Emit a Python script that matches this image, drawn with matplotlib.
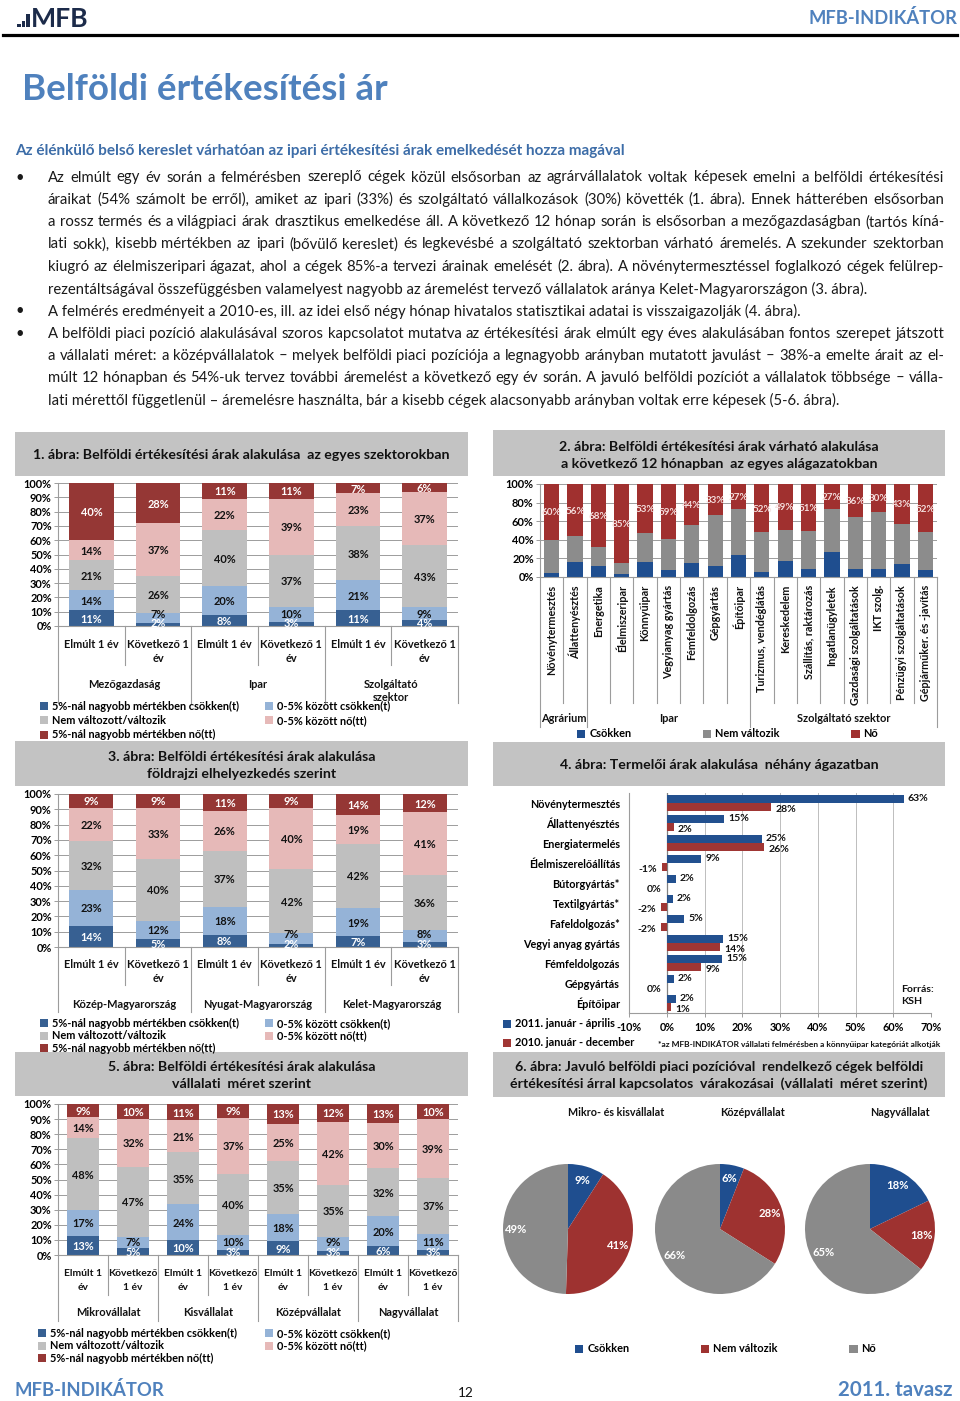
import numpy as np
import matplotlib
matplotlib.use('Agg')
import matplotlib.pyplot as plt
from matplotlib.font_manager import FontProperties, fontManager
from matplotlib.patches import Rectangle
from matplotlib.lines import Line2D
from matplotlib.transforms import blended_transform_factory

# ------------------------------------------------------------------ DATA
heading = "Belföldi értékesítési ár"
subheading = "Az élénkülő belső kereslet várhatóan az ipari értékesítési árak emelkedését hozza magával"
body_lines = [
    "Az elmúlt egy év során a felmérésben szereplő cégek közül elsősorban az agrárvállalatok voltak képesek emelni a belföldi értékesítési",
    "áraikat (54% számolt be erről), amiket az ipari (33%) és szolgáltató vállalkozások (30%) követték (1. ábra). Ennek hátterében elsősorban",
    "a rossz termés és a világpiaci árak drasztikus emelkedése áll. A következő 12 hónap során is elsősorban a mezőgazdaságban (tartós kíná-",
    "lati sokk), kisebb mértékben az ipari (bővülő kereslet) és legkevésbé a szolgáltató szektorban várható áremelés. A szekunder szektorban",
    "kiugró az élelmiszeripari ágazat, ahol a cégek 85%-a tervezi árainak emelését (2. ábra). A növénytermesztéssel foglalkozó cégek felülrep-",
    "rezentáltságával összefüggésben valamelyest nagyobb az áremelést tervező vállalatok aránya Kelet-Magyarországon (3. ábra).",
    "A felmérés eredményeit a 2010-es, ill. az idei első négy hónap hivatalos statisztikai adatai is visszaigazolják (4. ábra).",
    "A belföldi piaci pozíció alakulásával szoros kapcsolatot mutatva az értékesítési árak elmúlt egy éves alakulásában fontos szerepet játszott",
    "a vállalati méret: a középvállalatok – melyek belföldi piaci pozíciója a legnagyobb arányban mutatott javulást – 38%-a emelte árait az el-",
    "múlt 12 hónapban és 54%-uk tervez további áremelést a következő egy év során.  A javuló belföldi pozíciót a vállalatok többsége – válla-",
    "lati mérettől függetlenül – áremelésre használta, bár a kisebb cégek alacsonyabb arányban voltak erre képesek (5-6. ábra).",
]
body_bullet = [True, False, False, False, False, False, True, True, False, False, False]
body_justify = [True, True, True, True, True, False, False, True, True, True, False]

seg_names = ['5%-nál nagyobb mértékben csökken(t)', '0-5% között csökken(t)',
             'Nem változott/változik', '0-5% között nő(tt)', '5%-nál nagyobb mértékben nő(tt)']

c1_title = ["1. ábra: Belföldi értékesítési árak alakulása  az egyes szektorokban"]
c1_groups = ['Mezőgazdaság', 'Ipar', 'Szolgáltató\nszektor']
c1_cats = ['Elmúlt 1 év', 'Következő 1\név'] * 3
c1_vals = [[11, 14, 21, 14, 40], [2, 7, 26, 37, 28], [8, 20, 40, 22, 11],
           [3, 10, 37, 39, 11], [11, 21, 38, 23, 7], [4, 9, 43, 37, 6]]

c2_title = ["2. ábra: Belföldi értékesítési árak várható alakulása",
            "a következő 12 hónapban  az egyes alágazatokban"]
c2_cats = ['Növénytermesztés', 'Állattenyésztés', 'Energetika', 'Élelmiszeripar', 'Könnyűipar',
           'Vegyianyag gyártás', 'Fémfeldolgozás', 'Gépgyártás', 'Építőipar', 'Turizmus, vendéglátás',
           'Kereskedelem', 'Szállítás, raktározás', 'Ingatlanügyletek', 'Gazdasági szolgáltatások',
           'IKT szolg.', 'Pénzügyi szolgáltatások', 'Gépjárműker. és -javítás']
c2_groups = ['Agrárium', 'Ipar', 'Szolgáltató szektor']
c2_group_sizes = [2, 7, 8]
c2_series = ['Csökken', 'Nem változik', 'Nő']
c2_down = [4, 16, 12, 3, 16, 7, 15, 12, 24, 5, 17, 9, 27, 9, 9, 14, 8]
c2_same = [36, 28, 20, 12, 31, 34, 41, 55, 49, 43, 34, 40, 46, 55, 61, 43, 40]
c2_up = [60, 56, 68, 85, 53, 59, 44, 33, 27, 52, 49, 51, 27, 36, 30, 43, 52]

c3_title = ["3. ábra: Belföldi értékesítési árak alakulása", "földrajzi elhelyezkedés szerint"]
c3_groups = ['Közép-Magyarország', 'Nyugat-Magyarország', 'Kelet-Magyarország']
c3_cats = ['Elmúlt 1 év', 'Következő 1\név'] * 3
c3_vals = [[14, 23, 32, 22, 9], [5, 12, 40, 33, 9], [8, 18, 37, 26, 11],
           [2, 7, 42, 40, 9], [7, 19, 42, 19, 14], [3, 8, 36, 41, 12]]

c4_title = ["4. ábra: Termelői árak alakulása  néhány ágazatban"]
c4_cats = ['Növénytermesztés', 'Állattenyésztés', 'Energiatermelés', 'Élelmiszerelőállítás',
           'Bútorgyártás*', 'Textilgyártás*', 'Fafeldolgozás*', 'Vegyi anyag gyártás',
           'Fémfeldolgozás', 'Gépgyártás', 'Építőipar']
c4_series = ['2011. január - április', '2010. január - december']
c4_2011 = [62.8, 15.2, 25.2, 9.2, 2.4, 1.6, 4.6, 15.0, 14.6, 1.8, 2.4]
c4_2010 = [27.7, 1.8, 25.8, -1.3, 0.0, -1.6, -1.6, 14.2, 9.2, 0.0, 1.2]
c4_xticks = [-10, 0, 10, 20, 30, 40, 50, 60, 70]
c4_note = "*az MFB-INDIKÁTOR vállalati felmérésben a könnyűipar kategóriát alkotják"
c4_source = ["Forrás:", "KSH"]

c5_title = ["5. ábra: Belföldi értékesítési árak alakulása", "vállalati  méret szerint"]
c5_groups = ['Mikrovállalat', 'Kisvállalat', 'Középvállalat', 'Nagyvállalat']
c5_cats = ['Elmúlt 1\név', 'Következő\n1 év'] * 4
c5_vals = [[13, 17, 48, 14, 9], [5, 7, 47, 32, 10], [10, 24, 35, 21, 11], [3, 10, 40, 37, 9],
           [9, 18, 35, 25, 13], [3, 9, 35, 42, 12], [6, 20, 32, 30, 13], [3, 11, 37, 39, 10]]

c6_title = ["6. ábra: Javuló belföldi piaci pozícióval  rendelkező cégek belföldi",
            "értékesítési árral kapcsolatos  várakozásai  (vállalati  méret szerint)"]
c6_pies = ['Mikro- és kisvállalat', 'Középvállalat', 'Nagyvállalat']
c6_series = ['Csökken', 'Nem változik', 'Nő']
c6_vals = [[9, 41, 49], [6, 28, 66], [18, 18, 65]]

# ------------------------------------------------------------------ STYLE
SEG_COLS = ['#376092', '#95B3D7', '#BFBFBF', '#E6B9B8', '#953735']
SEG_TXT = ['white', '#111111', '#111111', '#111111', 'white']
C3 = ['#1F4E8F', '#8C8C8C', '#A0302F']
C6 = ['#1F4E8F', '#9E3230', '#8A8A8A']
C4 = ['#22508F', '#A03634']
TITLE_BG = '#C3C3C3'
GRID = '#9C9C9C'
SEP = '#9C9C9C'
BLUE_H = '#4F81BD'

W, H = 960, 1401
fig = plt.figure(figsize=(W / 100, H / 100), dpi=100)
fig.patch.set_facecolor('white')
names = {f.name for f in fontManager.ttflist}
FONT = 'Lato' if 'Lato' in names else 'DejaVu Sans'
FAM = [FONT, 'DejaVu Sans']
plt.rcParams['font.family'] = FAM
renderer = fig.canvas.get_renderer()


def tw(s, size, weight='bold'):
    fp = FontProperties(family=FAM, size=size, weight=weight)
    w, h, d = renderer.get_text_width_height_descent(s, fp, ismath=False)
    return w


def fit(s, width, weight='bold'):
    return 10.0 * width / tw(s, 10.0, weight)


def fx(x):
    return x / W


def fy(y):
    return 1 - y / H


def T(x, y, s, size, ha='left', va='center_baseline', weight='bold', color='#111111', **kw):
    return fig.text(fx(x), fy(y), s, fontsize=size, ha=ha, va=va, fontweight=weight, color=color, **kw)


def axpx(x0, y0, x1, y1):
    return fig.add_axes([fx(x0), fy(y1), (x1 - x0) / W, (y1 - y0) / H])


def box(x0, y0, x1, y1, color):
    fig.add_artist(Rectangle((fx(x0), fy(y1)), (x1 - x0) / W, (y1 - y0) / H,
                             transform=fig.transFigure, facecolor=color, edgecolor='none', zorder=0))


CH = fit(seg_names[0], 175) * 1.08          # chart text size
CH2 = fit('Növénytermesztés', 86) * 1.06    # category text size
TS = fit(c1_title[0], 395) * 1.05           # chart title size


def title_box(x0, y0, x1, y1, lines, ys):
    box(x0, y0, x1, y1, TITLE_BG)
    for s, yy in zip(lines, ys):
        T((x0 + x1) / 2, yy, s, TS, ha='center')


def make_legend(ax, handles, labels, x, y, ncol, pitch, fs, next_col_x=None):
    em = fs * 100 / 72
    ls = max(pitch / em - 1.0, 0.0)
    colsp = 1.0
    if next_col_x is not None:
        if ncol == 2:
            first_w = max(tw(l, fs) for l in labels[:3])
        else:
            first_w = tw(labels[0], fs)
        colsp = (next_col_x - (x + 1.1 * em + first_w)) / em
    ax.legend(handles, labels, loc='upper left', bbox_to_anchor=(fx(x), fy(y - 0.5 * em)),
              bbox_transform=fig.transFigure, ncol=ncol, frameon=False,
              prop=FontProperties(family=FAM, size=fs, weight='bold'),
              handlelength=0.75, handleheight=0.75, handletextpad=0.35,
              columnspacing=colsp, labelspacing=ls, borderpad=0, borderaxespad=0)


def style_vaxis(ax, step):
    ax.set_ylim(0, 100)
    ax.set_yticks(np.arange(0, 101, step))
    ax.set_yticklabels([f'{v}%' for v in range(0, 101, step)], fontsize=CH, fontweight='bold')
    ax.tick_params(axis='y', length=3, width=0.7, color=GRID, pad=1.5)
    ax.set_xticks([])
    ax.grid(axis='y', color=GRID, lw=0.7)
    ax.set_axisbelow(True)
    for s in ['top', 'right']:
        ax.spines[s].set_visible(False)
    for s in ['left', 'bottom']:
        ax.spines[s].set_color(GRID)
        ax.spines[s].set_linewidth(0.8)


def separators(ax, n, gsizes, y_axis, inner_bot, outer_bot):
    tr = blended_transform_factory(ax.transData, fig.transFigure)
    outer = set(np.concatenate([[0], np.cumsum(gsizes)]).tolist())
    for b in range(n + 1):
        bot = outer_bot if b in outer else inner_bot
        ax.plot([b, b], [fy(y_axis), fy(bot)], transform=tr, color=SEP, lw=0.8, clip_on=False)
    return tr


def stacked_chart(rect, cats, groups, vals, cat_y, grp_y, inner_bot, outer_bot, bar_w, leg,
                  cat_fs=None):
    x0, y0, x1, y1 = rect
    axh = y1 - y0
    ax = axpx(*rect)
    n = len(cats)
    V = np.array(vals, float)
    N = V / V.sum(axis=1, keepdims=True) * 100
    xs = np.arange(n) + 0.5
    bottom = np.zeros(n)
    handles = []
    for k in range(5):
        h = ax.bar(xs, N[:, k], bottom=bottom, width=bar_w, color=SEG_COLS[k], zorder=2, linewidth=0)
        handles.append(h)
        bottom = bottom + N[:, k]
    for i in range(n):
        cum, prev = 0.0, -1e9
        for k in range(5):
            c = (cum + N[i, k] / 2) * axh / 100
            p = max(c, 3.5, prev + 9.5)
            prev = p
            ax.text(xs[i], p / axh * 100, f'{int(V[i, k])}%', ha='center', va='center_baseline',
                    fontsize=CH, fontweight='bold', color=SEG_TXT[k], zorder=3)
            cum += N[i, k]
    ax.set_xlim(0, n)
    style_vaxis(ax, 10)
    gs = [n // len(groups)] * len(groups)
    tr = separators(ax, n, gs, y1, inner_bot, outer_bot)
    cfs = cat_fs if cat_fs else CH
    for i, c in enumerate(cats):
        for j, line in enumerate(c.split('\n')):
            ax.text(xs[i], fy(cat_y + j * 14), line, transform=tr, ha='center', va='center_baseline',
                    fontsize=cfs, fontweight='bold', color='#111111')
    start = 0
    for g, s in zip(groups, gs):
        for j, line in enumerate(g.split('\n')):
            ax.text(start + s / 2, fy(grp_y + j * 13.5), line, transform=tr, ha='center',
                    va='center_baseline', fontsize=CH, fontweight='bold', color='#111111')
        start += s
    order = [0, 2, 4, 1, 3]
    make_legend(ax, [handles[k] for k in order], [seg_names[k] for k in order],
                leg[0], leg[1], 2, leg[2], CH, 265)
    return ax


# ------------------------------------------------------------------ HEADER
for (bx0, by0, bx1, by1) in [(17, 23.5, 20.5, 27), (21.5, 21, 25, 27), (26, 14.5, 29.5, 27)]:
    box(bx0, by0, bx1, by1, '#1c2b4a')
T(31, 27, 'MFB', fit('MFB', 58), va='baseline', color='#1c2b4a')
T(957, 17, 'MFB-INDIKÁTOR', fit('MFB-INDIKÁTOR', 149), ha='right', color=BLUE_H)
fig.add_artist(Line2D([fx(3), fx(957)], [fy(34.5), fy(34.5)], transform=fig.transFigure,
                      color='black', lw=2.3))
T(22, 100, heading, fit(heading, 368), va='baseline', color=BLUE_H)
T(15, 149, subheading, fit(subheading, 611), color='#3D6DA8')

BODY = min(fit(l, 893, 'normal') for l, j in zip(body_lines, body_justify) if j)
for i, (line, bul, jus) in enumerate(zip(body_lines, body_bullet, body_justify)):
    y = 176 + i * 22.3
    if bul:
        T(20, y, '•', BODY, ha='center', weight='normal', color='#1a1a1a')
    if jus:
        words = [w for w in line.split(' ') if w]
        widths = [tw(w, BODY, 'normal') for w in words]
        gap = (944 - 48 - sum(widths)) / (len(words) - 1)
        x = 48
        for w, wd in zip(words, widths):
            T(x, y, w, BODY, weight='normal', color='#1a1a1a')
            x += wd + gap
    else:
        T(48, y, line, BODY, weight='normal', color='#1a1a1a')

# ------------------------------------------------------------------ CHART 1
title_box(15, 432, 468, 476, c1_title, [454])
stacked_chart((58, 483, 458, 626), c1_cats, c1_groups, c1_vals, 643, 683, 665, 703, 0.67,
              (40, 706, 14.5))

# ------------------------------------------------------------------ CHART 3
title_box(15, 741, 468, 786, c3_title, [756, 773])
stacked_chart((58, 794, 458, 947), c3_cats, c3_groups, c3_vals, 964, 1004, 985, 1012, 0.66,
              (40, 1023.5, 12.5))

# ------------------------------------------------------------------ CHART 5
title_box(15, 1052, 468, 1096, c5_title, [1066, 1083])
stacked_chart((58, 1104, 458, 1255), c5_cats, c5_groups, c5_vals, 1273, 1312, 1295, 1321, 0.65,
              (38, 1333.5, 12.5), cat_fs=CH * 0.93)

# ------------------------------------------------------------------ CHART 2
title_box(493, 430, 945, 476, c2_title, [446, 463])
ax2 = axpx(540, 484, 937, 577)
V2 = np.array([c2_down, c2_same, c2_up], float).T
N2 = V2 / V2.sum(axis=1, keepdims=True) * 100
xs2 = np.arange(len(c2_cats)) + 0.5
bot = np.zeros(len(c2_cats))
h2 = []
for k in range(3):
    h2.append(ax2.bar(xs2, N2[:, k], bottom=bot, width=0.65, color=C3[k], zorder=2, linewidth=0))
    bot = bot + N2[:, k]
for i in range(len(c2_cats)):
    ax2.text(xs2[i], N2[i, 0] + N2[i, 1] + N2[i, 2] / 2, f'{c2_up[i]}%', ha='center',
             va='center_baseline', fontsize=CH * 0.9, fontweight='bold', color='#F4DEDD', zorder=3)
ax2.set_xlim(0, len(c2_cats))
style_vaxis(ax2, 20)
tr2 = separators(ax2, len(c2_cats), c2_group_sizes, 577, 703, 727)
for i, c in enumerate(c2_cats):
    ax2.text(xs2[i], fy(585), c, transform=tr2, rotation=90, ha='center', va='top',
             fontsize=CH2, fontweight='bold', color='#111111')
start = 0
for g, s in zip(c2_groups, c2_group_sizes):
    ax2.text(start + s / 2, fy(718), g, transform=tr2, ha='center', va='center_baseline',
             fontsize=CH, fontweight='bold', color='#111111')
    start += s
make_legend(ax2, h2, c2_series, 577, 734, 3, 12, CH, 703)

# ------------------------------------------------------------------ CHART 4
title_box(493, 742, 945, 786, c4_title, [764])
ax4 = axpx(629, 793, 931, 1013)
yy = np.arange(len(c4_cats))
hb = ax4.barh(yy - 0.2, c4_2011, height=0.4, color=C4[0], zorder=2, linewidth=0)
hr = ax4.barh(yy + 0.2, c4_2010, height=0.4, color=C4[1], zorder=2, linewidth=0)
ax4.set_xlim(c4_xticks[0], c4_xticks[-1])
ax4.set_ylim(len(c4_cats) - 0.5, -0.5)
ax4.set_yticks(yy)
ax4.set_yticklabels(c4_cats, fontsize=CH2, fontweight='bold')
ax4.tick_params(axis='y', length=0, pad=6.5)
ax4.set_xticks(c4_xticks)
ax4.set_xticklabels([f'{v}%' for v in c4_xticks], fontsize=CH2, fontweight='bold')
ax4.tick_params(axis='x', length=3, width=0.7, color=GRID, pad=3.5)
ax4.grid(axis='x', color='#BDBDBD', lw=0.7)
ax4.set_axisbelow(True)
ax4.axvline(0, color='#808080', lw=0.9, zorder=1)
ax4.spines['top'].set_visible(False)
ax4.spines['right'].set_visible(False)
for s in ['left', 'bottom']:
    ax4.spines[s].set_color(GRID)
    ax4.spines[s].set_linewidth(0.8)
for vals, off, dy in [(c4_2011, -0.2, 1.5), (c4_2010, 0.2, -1.5)]:
    for i, v in enumerate(vals):
        s = f'{int(round(v))}%'
        if v > 0:
            ax4.annotate(s, (v, i + off), xytext=(4, dy), textcoords='offset pixels', ha='left',
                         va='center_baseline', fontsize=CH2 * 0.97, fontweight='bold', color='#111111')
        else:
            ax4.annotate(s, (min(v, 0), i + off), xytext=(-5, dy), textcoords='offset pixels',
                         ha='right', va='center_baseline', fontsize=CH2 * 0.97, fontweight='bold',
                         color='#111111')
make_legend(ax4, [hb, hr], c4_series, 503, 1024, 1, 19, CH2 * 1.02)
T(658, 1043, c4_note, fit(c4_note, 282))
T(901, 988, c4_source[0], CH * 0.95)
T(901, 1001, c4_source[1], CH * 0.95)

# ------------------------------------------------------------------ CHART 6
title_box(493, 1052, 945, 1097, c6_title, [1066, 1083])
pie_w = None
for j, cx in enumerate([568, 720, 870]):
    axp = axpx(cx - 65, 1164, cx + 65, 1294)
    wedges, _ = axp.pie(c6_vals[j], colors=C6, startangle=90, counterclock=False,
                        wedgeprops=dict(linewidth=0))
    axp.set_xlim(-1, 1)
    axp.set_ylim(-1, 1)
    for w, v in zip(wedges, c6_vals[j]):
        ang = np.deg2rad((w.theta1 + w.theta2) / 2)
        axp.text(0.8 * np.cos(ang), 0.8 * np.sin(ang), f'{v}%', ha='center', va='center_baseline',
                 color='white', fontsize=CH * 1.02, fontweight='bold')
    T(cx, 1112, c6_pies[j], CH2)
    if pie_w is None:
        pie_w = (axp, wedges)
make_legend(pie_w[0], pie_w[1], c6_series, 575, 1349, 3, 12, CH, 701)

# ------------------------------------------------------------------ FOOTER
T(15, 1388, 'MFB-INDIKÁTOR', fit('MFB-INDIKÁTOR', 150), color=BLUE_H)
T(952, 1388, '2011. tavasz', fit('2011. tavasz', 114), ha='right', color=BLUE_H)
T(466, 1392, '12', fit('12', 16, 'normal'), ha='center', weight='normal', color='#111111')

fig.savefig('out.png', dpi=100)
